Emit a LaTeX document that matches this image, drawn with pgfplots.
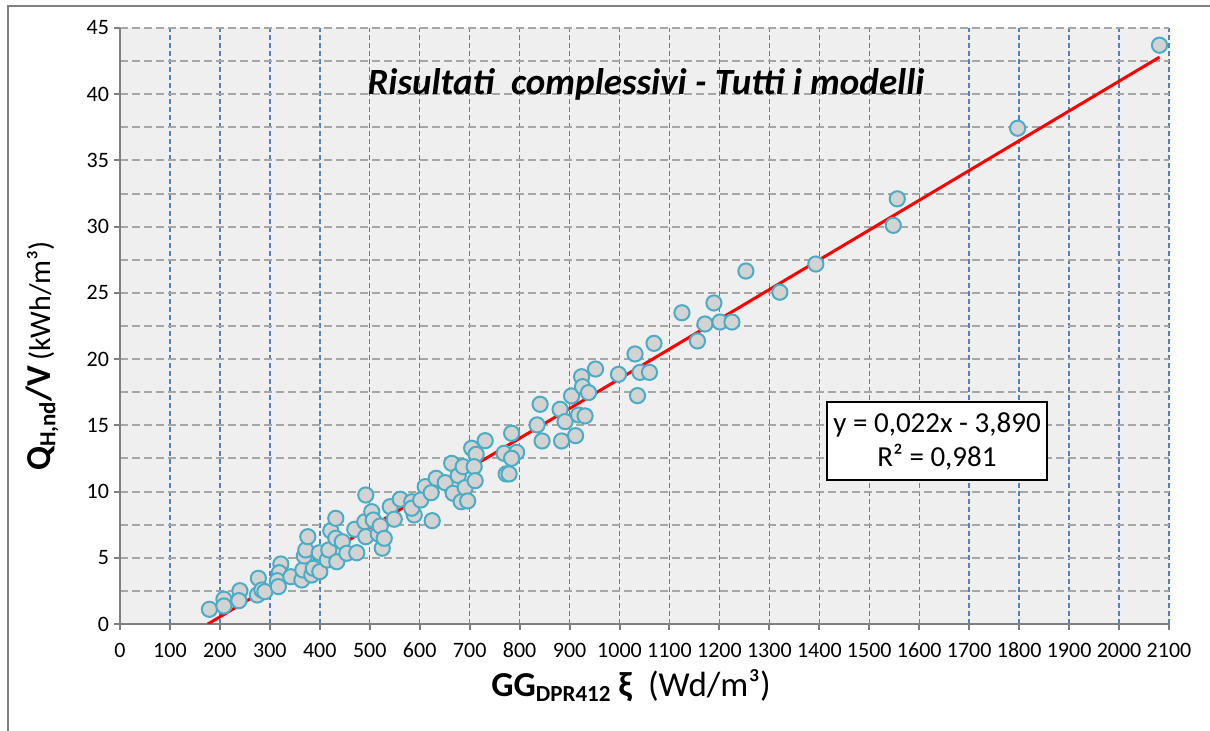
\documentclass[border=0pt]{standalone}
\usepackage{fontspec}
\setmainfont{Carlito}
\usepackage{pgfplots}
\pgfplotsset{compat=1.18}

\definecolor{plotbg}{RGB}{239,239,239}
\definecolor{gridgray}{RGB}{166,166,166}
\definecolor{gridblue}{RGB}{79,129,189}
\definecolor{axisgray}{RGB}{128,128,128}
\definecolor{markedge}{RGB}{75,172,198}
\definecolor{markfill}{RGB}{211,211,211}

\begin{document}
\begin{tikzpicture}

\begin{axis}[
    at={(60pt,53.5pt)}, anchor=south west,
    scale only axis, width=524.5pt, height=298pt,
    xmin=0, xmax=2100, ymin=0, ymax=45,
    xtick distance=100, ytick distance=5,
    minor ytick={2.5,7.5,...,42.5},
    axis x line*=bottom, axis y line*=left,
    axis line style={axisgray, line width=1.25pt},
    axis background/.style={fill=plotbg},
    tick align=outside, major tick length=3pt, minor tick length=0pt,
    tick style={axisgray, line width=1pt},
    xmajorgrids, ymajorgrids, yminorgrids,
    major x grid style={gridblue, line width=0.7pt, dash pattern=on 2.5pt off 1.5pt},
    major y grid style={gridgray, line width=1pt, dash pattern=on 4pt off 2pt},
    minor y grid style={gridgray, line width=1pt, dash pattern=on 4pt off 2pt},
    ticklabel style={font=\fontsize{11}{13}\selectfont},
    xticklabel style={yshift=-2.5pt, text height=7.5pt, text depth=0pt},
    yticklabel style={xshift=1pt},
    /pgf/number format/assume math mode=true,
    /pgf/number format/1000 sep={},
]

% measured points
\addplot[only marks, mark=*, mark size=3.8pt,
    mark options={fill=markfill, draw=markedge, line width=1pt}]
    coordinates {
    (179,1.11) (208,1.87) (208,1.36) (240,2.51) (238,1.76) (277,3.45) (275,2.19)
    (284,2.57) (290,2.44) (322,4.53) (319,3.87) (315,3.27) (317,2.82) (342,3.57)
    (364,3.32) (366,4.08) (369,5.13) (372,5.59) (376,6.59) (384,3.70) (387,4.21)
    (400,3.95) (399,5.38) (415,4.83) (418,5.59) (422,7.04) (432,7.98) (434,4.70)
    (432,6.47) (445,6.21) (454,5.34) (470,7.15) (474,5.38) (490,7.72) (492,6.59)
    (492,9.74) (504,8.48) (507,7.85) (517,6.80) (521,7.40) (525,5.72) (529,6.47)
    (541,8.86) (549,7.91) (561,9.42) (584,9.23) (589,8.23) (584,8.74) (611,10.37)
    (602,9.36) (625,7.80) (623,9.91) (633,11.0) (651,10.67) (664,12.13) (667,9.87)
    (677,11.2) (683,9.23) (691,10.29) (696,9.29) (687,11.88) (704,13.27) (713,12.81)
    (709,11.88) (711,10.82) (731,13.84) (769,12.89) (794,12.96) (784,14.40) (784,12.51)
    (773,11.33) (779,11.33) (841,16.59) (835,15.03) (845,13.82) (884,13.82) (881,16.21)
    (891,15.28) (912,14.22) (918,15.78) (931,15.71) (904,17.22) (924,18.67) (926,17.92)
    (938,17.47) (952,19.25) (998,18.85) (1031,20.39) (1036,17.24) (1041,19.0) (1060,19.0)
    (1069,21.19) (1156,21.37) (1125,23.5) (1171,22.65) (1189,24.24) (1201,22.8)
    (1225,22.8) (1253,26.65) (1321,25.05) (1393,27.18) (1548,30.1) (1556,32.1)
    (1797,37.43) (2081,43.7)
    };

% linear trend line
\addplot[red, line width=1.5pt] coordinates {(176,0) (2081,42.8)};

\end{axis}

% title
\node[font=\fontsize{18.5}{22}\selectfont\bfseries\itshape] at (323pt,323.5pt)
    {Risultati\ \ complessivi - Tutti i modelli};

% regression box
\node[draw=black, fill=white, line width=0.75pt, minimum width=110pt,
    minimum height=39pt, align=center, inner sep=1pt,
    font=\fontsize{14.5}{17}\selectfont] at (468.5pt,145pt)
    {y = 0,022x - 3,890\\R² = 0,981};

% axis titles
\node[font=\fontsize{17.5}{20}\selectfont] at (315.5pt,22.5pt)
    {\textbf{GG\raisebox{-0.3ex}{\fontsize{11.5}{13}\selectfont DPR412}~ξ}~~(Wd/m³)};
\node[rotate=90, font=\fontsize{15}{18}\selectfont] at (21pt,187.5pt)
    {\textbf{\fontsize{17.5}{20}\selectfont Q\raisebox{-0.3ex}{\fontsize{11.5}{13}\selectfont H,nd}/V}\,(kWh/m³)};

% chart frame (left and top edges visible)
\draw[axisgray, line width=0.75pt] (4pt,-5pt) -- (4pt,362.5pt) -- (610pt,362.5pt);

\pgfresetboundingbox
\path[use as bounding box] (0,0) rectangle (605pt,365.5pt);
\end{tikzpicture}
\end{document}
